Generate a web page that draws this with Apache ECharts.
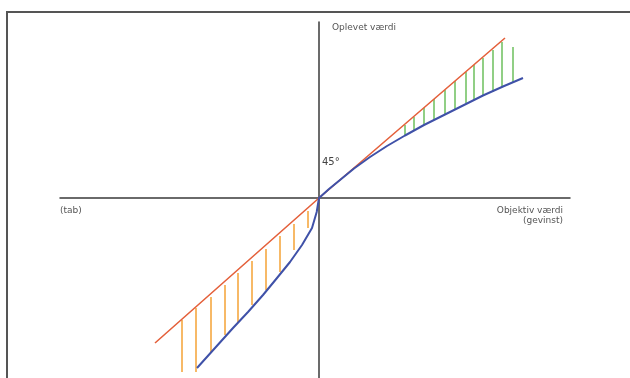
<!DOCTYPE html>
<html>
<head>
<meta charset="utf-8">
<script src="https://cdn.jsdelivr.net/npm/echarts@6/dist/echarts.min.js"></script>
<style>html,body{margin:0;padding:0;background:#fff}#c{width:630px;height:378px}</style>
</head>
<body>
<div id="c"></div>
<script>
// Reference line (45°) – objective = perceived
var refLine = [[-164, -145], [0, 0], [186, 160]];
// Value function (perceived value)
var valueX = [-122, -104, -86, -71, -56, -42, -29, -17, -7, -2.3, 0, 10, 21, 35, 51, 68, 86, 105, 126, 145, 164, 184, 204];
var valueY = [-170, -150, -130, -114, -97, -80, -64, -47, -30, -14, 0, 9, 18, 29.5, 41, 52, 62.5, 73, 83.5, 93, 102.5, 111.5, 120];
// Loss hatching (orange)
var lossX = [-137, -123, -108, -94, -81, -67, -53, -39, -25, -11];
var lossTop = [-122, -110, -99, -87, -75, -63, -51, -38, -26, -13];
var lossBottom = [-174, -174, -154, -137, -124, -107, -92, -74, -52, -30];
// Gain hatching (green)
var gainX = [86, 95, 105, 115, 126, 136, 147, 155, 164, 174, 183, 194];
var gainTop = [73, 81, 90, 99, 108, 117, 126, 133, 140, 148, 156, 151];
var gainBottom = [63, 68, 73, 78, 83, 88, 95, 98, 103, 106, 111, 116];

var axisLabels = {y: 'Oplevet værdi', loss: '(tab)', gain1: 'Objektiv værdi', gain2: '(gevinst)', angle: '45°'};

function zip3(a, b, c) { return a.map(function (v, i) { return [v, b[i], c[i]]; }); }
function hatch(color, width) {
  return function (params, api) {
    var p1 = api.coord([api.value(0), api.value(1)]);
    var p2 = api.coord([api.value(0), api.value(2)]);
    return {type: 'line', shape: {x1: p1[0], y1: p1[1], x2: p2[0], y2: p2[1]},
      style: {stroke: color, lineWidth: width}};
  };
}
var font = 'Verdana, "DejaVu Sans", sans-serif';

var chart = echarts.init(document.getElementById('c'), null, {renderer: 'canvas'});
chart.setOption({
  animation: false,
  backgroundColor: '#fff',
  grid: {left: 60, right: 60, top: 22, bottom: 0},
  xAxis: {type: 'value', min: -259, max: 251,
    axisLine: {onZero: true, lineStyle: {color: '#3a3a3a', width: 1.5}},
    axisTick: {show: false}, axisLabel: {show: false}, splitLine: {show: false}},
  yAxis: {type: 'value', min: -180, max: 176,
    axisLine: {show: true, onZero: true, lineStyle: {color: '#3a3a3a', width: 1.5}},
    axisTick: {show: false}, axisLabel: {show: false}, splitLine: {show: false}},
  graphic: [
    {type: 'rect', shape: {x: 7, y: 12, width: 700, height: 450}, style: {fill: 'none', stroke: '#555', lineWidth: 2}, silent: true},
    {type: 'text', left: 332, top: 23, style: {text: axisLabels.y, fontFamily: font, fontSize: 9, fill: '#555'}},
    {type: 'text', left: 60, top: 206, style: {text: axisLabels.loss, fontFamily: font, fontSize: 9, fill: '#555'}},
    {type: 'text', right: 67, top: 206, style: {text: axisLabels.gain1, fontFamily: font, fontSize: 9, fill: '#555', align: 'right'}},
    {type: 'text', right: 67, top: 216, style: {text: axisLabels.gain2, fontFamily: font, fontSize: 9, fill: '#555', align: 'right'}},
    {type: 'text', left: 322, top: 157, style: {text: axisLabels.angle, fontFamily: font, fontSize: 10, fill: '#444'}}
  ],
  series: [
    {type: 'custom', renderItem: hatch('#f5a235', 1.5), data: zip3(lossX, lossTop, lossBottom), z: 1},
    {type: 'custom', renderItem: hatch('#6cbf5c', 1.5), data: zip3(gainX, gainTop, gainBottom), z: 1},
    {type: 'line', data: refLine, showSymbol: false, lineStyle: {color: '#e4603b', width: 1.6}, z: 3},
    {type: 'line', data: valueX.map(function (x, i) { return [x, valueY[i]]; }), smooth: false, showSymbol: false,
      lineStyle: {color: '#3f51a8', width: 2, join: 'round'}, z: 4}
  ]
});
</script>
</body>
</html>
